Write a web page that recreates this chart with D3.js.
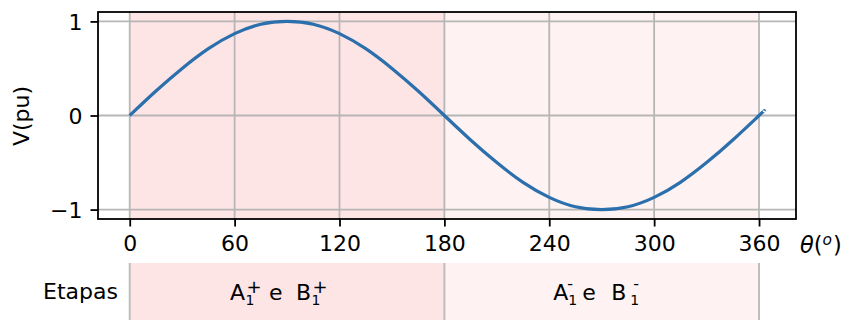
<!DOCTYPE html>
<html><head><meta charset="utf-8">
<script src="https://cdn.jsdelivr.net/npm/d3@7"></script>
<style>
html,body{margin:0;padding:0;background:#fff;}
svg text{font-family:"DejaVu Sans",sans-serif;fill:#000;}
</style></head>
<body><svg id="c" width="851" height="320"></svg>
<script>
// Data
const theta = [0,15,30,45,60,75,90,105,120,135,150,165,180,195,210,225,240,255,270,285,300,315,330,345,360,363];
const voltage = [0,0.26,0.5,0.71,0.87,0.97,1,0.97,0.87,0.71,0.5,0.26,0,-0.26,-0.5,-0.71,-0.87,-0.97,-1,-0.97,-0.87,-0.71,-0.5,-0.26,0,0.05];
const xTicks = [0,60,120,180,240,300,360];
const yTicks = [-1,0,1];
const stageStart = [0,180];
const stageEnd = [180,360];
const stageSign = ["+","-"];
const stageLetters = ["A","B"];
const stageIndex = "1";
const stageJoin = "e";
const stageLabel = "Etapas";

const svg = d3.select("#c");
const L=98,R=796,T=12,B=219;
const x = d3.scaleLinear().domain([-18.15,381.15]).range([L,R]);
const y = d3.scaleLinear().domain([-1.1,1.1]).range([B,T]);
const fills = ["#fee5e5","#fff2f2"];

// shaded spans
svg.selectAll("rect.span").data(stageStart).join("rect")
  .attr("x",(d,i)=>x(d)).attr("y",T)
  .attr("width",(d,i)=>x(stageEnd[i])-x(d)).attr("height",B-T)
  .attr("fill",(d,i)=>fills[i]);

// grid
const g = svg.append("g").attr("stroke","#b0b0b0").attr("stroke-width",1.8).attr("opacity",0.9);
g.selectAll("line.vx").data(xTicks).join("line")
  .attr("x1",d=>x(d)).attr("x2",d=>x(d)).attr("y1",T).attr("y2",B);
g.selectAll("line.hy").data(yTicks).join("line")
  .attr("y1",d=>y(d)).attr("y2",d=>y(d)).attr("x1",L).attr("x2",R);

// line
const line = d3.line().x((d,i)=>x(theta[i])).y(d=>y(d)).curve(d3.curveNatural);
svg.append("path").datum(voltage).attr("d",line)
  .attr("fill","none").attr("stroke","#2b6fac").attr("stroke-width",3.2);

// axes
const xa = svg.append("g").attr("transform",`translate(0,${B})`)
  .call(d3.axisBottom(x).tickValues(xTicks).tickSize(7.5).tickPadding(8).tickFormat(d3.format("d")));
const ya = svg.append("g").attr("transform",`translate(${L},0)`)
  .call(d3.axisLeft(y).tickValues(yTicks).tickSize(7.5).tickPadding(8).tickFormat(d=>d<0?"\u2212"+(-d):d));
[xa,ya].forEach(a=>{
  a.select(".domain").remove();
  a.selectAll(".tick line").attr("stroke","#000").attr("stroke-width",1.8);
  a.selectAll(".tick text").attr("font-size",22).attr("fill","#000");
});
ya.selectAll(".tick text").attr("dy","0.36em");
xa.selectAll(".tick text").attr("dy","0.74em");

svg.append("rect").attr("x",L).attr("y",T).attr("width",R-L).attr("height",B-T)
  .attr("fill","none").attr("stroke","#000").attr("stroke-width",1.8);

// axis labels
svg.append("text").attr("transform","translate(29,116) rotate(-90)")
  .attr("text-anchor","middle").attr("font-size",22).text("V(pu)");
const xl = svg.append("text").attr("x",800).attr("y",253).attr("font-size",22.5);
xl.append("tspan").attr("font-style","italic").text("\u03b8");
xl.append("tspan").text("(");
xl.append("tspan").attr("font-style","italic").attr("font-size",15.5).attr("dy",-8).text("o");
xl.append("tspan").attr("dy",8).attr("dx",1).text(")");

// stages table
const tT=263,tB=322;
svg.selectAll("rect.cell").data(stageStart).join("rect")
  .attr("x",(d,i)=>x(d)).attr("y",tT)
  .attr("width",(d,i)=>x(stageEnd[i])-x(d)).attr("height",tB-tT)
  .attr("fill",(d,i)=>fills[i]);
svg.selectAll("line.cellb").data([stageStart[0],stageStart[1],stageEnd[1]]).join("line")
  .attr("x1",d=>x(d)).attr("x2",d=>x(d)).attr("y1",tT).attr("y2",tB)
  .attr("stroke","#bdbdbd").attr("stroke-width",2);
svg.append("text").attr("x",118).attr("y",299).attr("text-anchor","end")
  .attr("font-size",22).text(stageLabel);

// label glyph layout (offsets from cell centre)
const layout = {
  "+": {A:-57, supA:-40.5, subA:-41.5, e:-18, B:9, supB:25.5, subB:24.5, supSize:18, supY:292.5},
  "-": {A:-48.5, supA:-34.5, subA:-33.5, e:-19.5, B:9.5, supB:31.5, subB:28.5, supSize:16, supY:289}
};
stageStart.forEach((s,i)=>{
  const cx = (x(s)+x(stageEnd[i]))/2;
  const sign = stageSign[i];
  const p = layout[sign];
  const add = (dx,yy,fs,txt)=>svg.append("text").attr("x",cx+dx).attr("y",yy)
      .attr("font-size",fs).text(txt);
  add(p.A,300,22,stageLetters[0]);
  add(p.supA,p.supY,p.supSize,sign);
  add(p.subA,304.5,14,stageIndex);
  add(p.e,300,22,stageJoin);
  add(p.B,300,22,stageLetters[1]);
  add(p.supB,p.supY,p.supSize,sign);
  add(p.subB,304.5,14,stageIndex);
});
</script></body></html>
